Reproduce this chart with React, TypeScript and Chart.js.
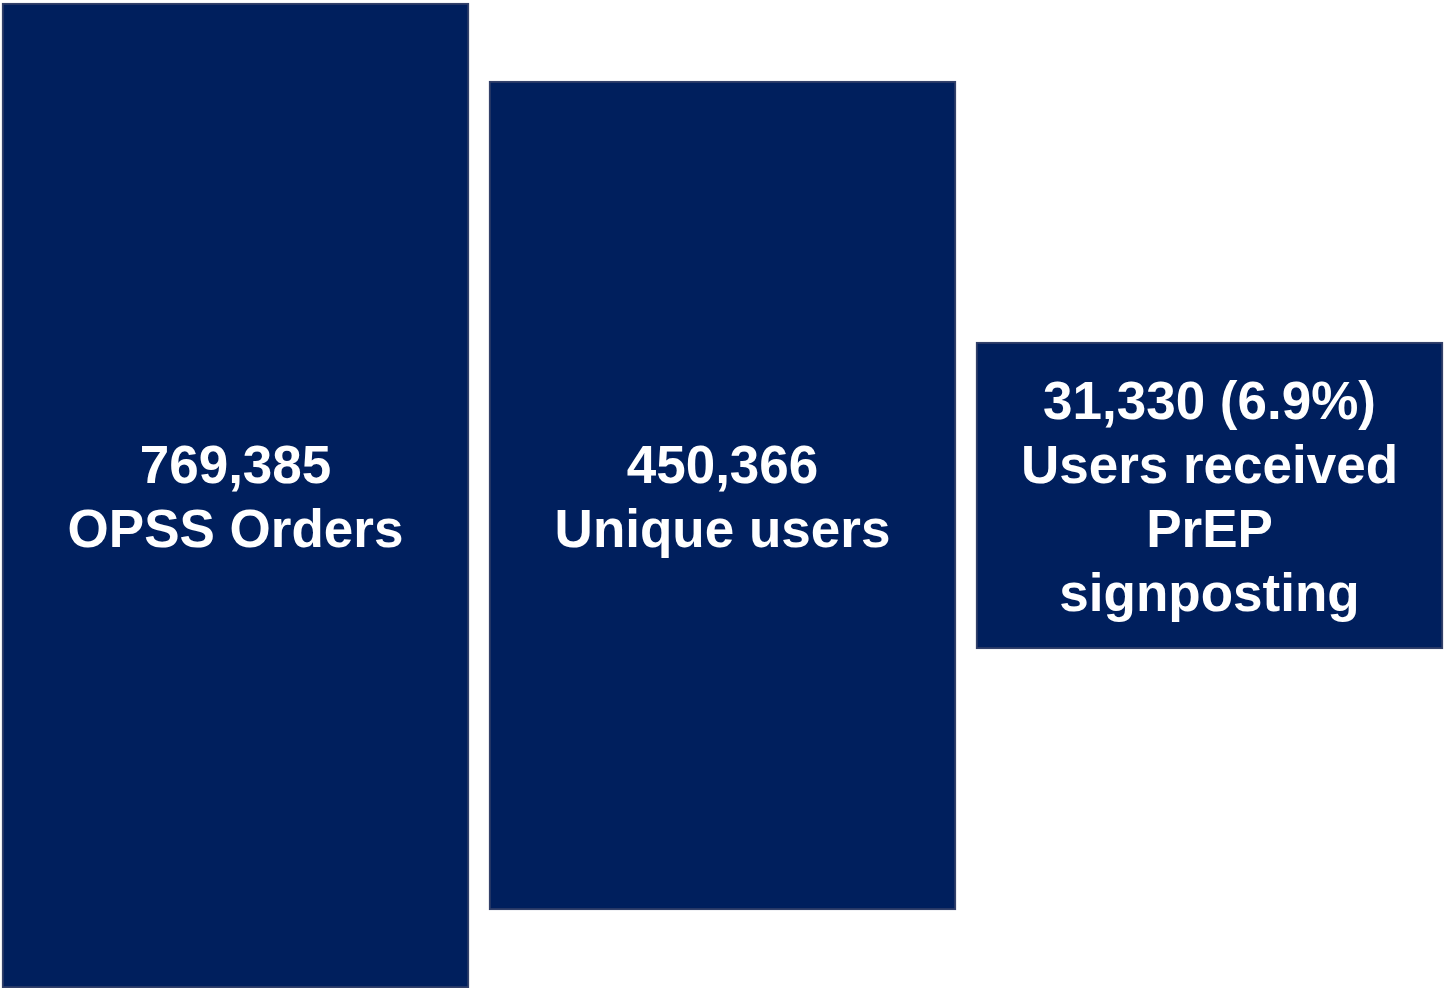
import React, { useEffect, useRef } from "react";
import { Chart, registerables } from "chart.js";

Chart.register(...registerables);

const categories: string[] = ["OPSS Orders", "Unique users", "Users received PrEP signposting"];
const positions: number[] = [0, 1, 2];
const counts: string[] = ["769,385", "450,366", "31,330 (6.9%)"];
const labelLines: string[][] = [
  [counts[0], "OPSS Orders"],
  [counts[1], "Unique users"],
  [counts[2], "Users received", "PrEP", "signposting"],
];
// visual half-heights of the centred boxes
const halfHeights: number[] = [492.5, 414.5, 153.5];

const labelPlugin = {
  id: "boxLabels",
  afterDatasetsDraw(chart: any) {
    const ctx = chart.ctx;
    const meta = chart.getDatasetMeta(0);
    ctx.save();
    ctx.fillStyle = "#ffffff";
    ctx.font = 'bold 53px "Liberation Sans", Arial, sans-serif';
    ctx.textAlign = "center";
    ctx.textBaseline = "middle";
    meta.data.forEach((el: any, i: number) => {
      const lines = labelLines[i];
      const cx = el.x;
      const cy = (el.y + el.base) / 2 + 5;
      const lh = 64;
      lines.forEach((t, j) => {
        ctx.fillText(t, cx, cy + (j - (lines.length - 1) / 2) * lh);
      });
    });
    ctx.restore();
  },
};

export default function App() {
  const ref = useRef<HTMLCanvasElement>(null);
  useEffect(() => {
    document.body.style.margin = "0";
    const canvas = ref.current!;
    const chart = new Chart(canvas, {
      type: "bar",
      data: {
        labels: categories,
        datasets: [
          {
            label: "Funnel",
            data: positions.map((x, i) => ({ x, y: [-halfHeights[i], halfHeights[i]] })) as any,
            backgroundColor: "#001F5D",
            borderColor: "#33416A",
            borderWidth: 2,
            borderSkipped: false,
            barThickness: 467,
          },
        ],
      },
      options: {
        responsive: false,
        animation: false,
        maintainAspectRatio: false,
        layout: { padding: 0 },
        plugins: { legend: { display: false }, tooltip: { enabled: false } },
        scales: {
          x: { type: "linear", display: false, offset: false, min: -0.4836, max: 2.4836 },
          y: { type: "linear", display: false, min: -492.5, max: 495.5 },
        },
      },
      plugins: [labelPlugin],
    });
    return () => chart.destroy();
  }, []);
  return (
    <div style={{ width: 1445, height: 988, background: "#fff" }}>
      <canvas ref={ref} width={1445} height={988} style={{ display: "block" }} />
    </div>
  );
}
